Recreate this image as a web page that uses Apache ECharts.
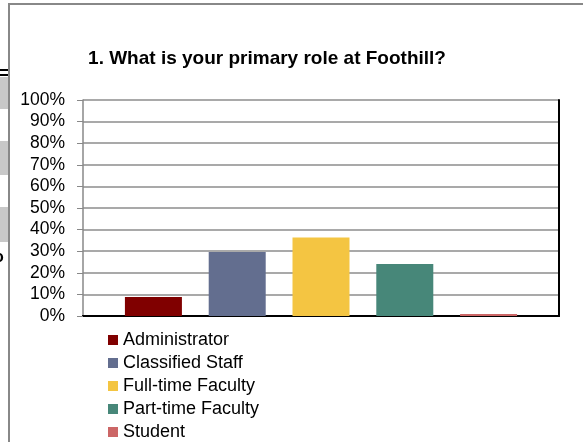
<!DOCTYPE html>
<html>
<head>
<meta charset="utf-8">
<script src="https://cdn.jsdelivr.net/npm/echarts@6/dist/echarts.min.js"></script>
<style>
  html, body { margin: 0; padding: 0; background: #fff; }
  #chart { width: 583px; height: 442px; }
</style>
</head>
<body>
<div id="chart"></div>
<script>
// roles (one bar each) and share of respondents, percent
var roles = ['Administrator', 'Classified Staff', 'Full-time Faculty', 'Part-time Faculty', 'Student'];
var shares = [8.8, 29.6, 36.3, 24.1, 0.9];
var roleColors = ['#800000', '#636e8f', '#f4c542', '#478779', '#cc6666'];
var yTicks = [0, 10, 20, 30, 40, 50, 60, 70, 80, 90, 100];

var myChart = echarts.init(document.getElementById('chart'), null, {renderer: 'canvas'});

var series = [];
roles.forEach(function (name, i) {
    series.push({
        name: name,
        type: 'bar',
        data: [shares[i]],
        barWidth: 57,
        barGap: '47%',
        itemStyle: {color: roleColors[i]}
    });
});

myChart.setOption({
    animation: false,
    textStyle: {fontFamily: 'Liberation Sans, Arial, sans-serif'},
    title: {
        text: '1. What is your primary role at Foothill?',
        left: 262,
        textAlign: 'center',
        top: 44,
        textStyle: {fontSize: 19, fontWeight: 'bold', color: '#000'}
    },
    grid: {left: 83, top: 100, right: 24, bottom: 126},
    legend: {
        orient: 'vertical',
        left: 108,
        top: 331,
        height: 140,
        padding: 0,
        itemWidth: 10,
        itemHeight: 10,
        itemGap: 5,
        itemTextGap: 4,
        icon: 'rect',
        textStyle: {fontSize: 18, color: '#000'},
        data: roles
    },
    xAxis: [{
        type: 'category',
        data: [''],
        axisLabel: {show: false},
        axisTick: {show: false},
        axisLine: {lineStyle: {color: '#000', width: 2}}
    }, { // 图表上边框
        type: 'category',
        position: 'top',
        data: [''],
        axisLabel: {show: false},
        axisTick: {show: false},
        axisLine: {lineStyle: {color: '#000', width: 2}}
    }],
    yAxis: [{
        type: 'value',
        min: yTicks[0],
        max: yTicks[yTicks.length - 1],
        interval: 10,
        axisLabel: {
            formatter: '{value}%',
            fontSize: 17.5,
            color: '#000',
            margin: 18
        },
        axisTick: {show: true, length: 6, lineStyle: {color: '#888'}},
        axisLine: {show: true, lineStyle: {color: '#888', width: 1.5}},
        splitLine: {lineStyle: {color: '#8c8c8c', width: 1.5}}
    }, { // 右边框
        type: 'value',
        position: 'right',
        min: 0,
        max: 100,
        axisLabel: {show: false},
        axisTick: {show: false},
        splitLine: {show: false},
        axisLine: {show: true, lineStyle: {color: '#000', width: 2}}
    }],
    graphic: [
        {type: 'rect', shape: {x: 9, y: 4, width: 700, height: 600}, style: {fill: 'none', stroke: '#888', lineWidth: 2}},
        {type: 'rect', shape: {x: 0, y: 69, width: 8, height: 2}, style: {fill: '#000'}},
        {type: 'rect', shape: {x: 0, y: 74, width: 8, height: 2}, style: {fill: '#000'}},
        {type: 'rect', shape: {x: 0, y: 77, width: 8, height: 32}, style: {fill: '#c8c8c8'}},
        {type: 'rect', shape: {x: 0, y: 141, width: 8, height: 34}, style: {fill: '#c8c8c8'}},
        {type: 'rect', shape: {x: 0, y: 207, width: 8, height: 35}, style: {fill: '#c8c8c8'}},
        {type: 'text', x: -6, y: 250, style: {text: 'o', fontSize: 16, fontWeight: 'bold', fill: '#000', font: 'bold 16px Liberation Sans'}}
    ],
    series: series
});
</script>
</body>
</html>
